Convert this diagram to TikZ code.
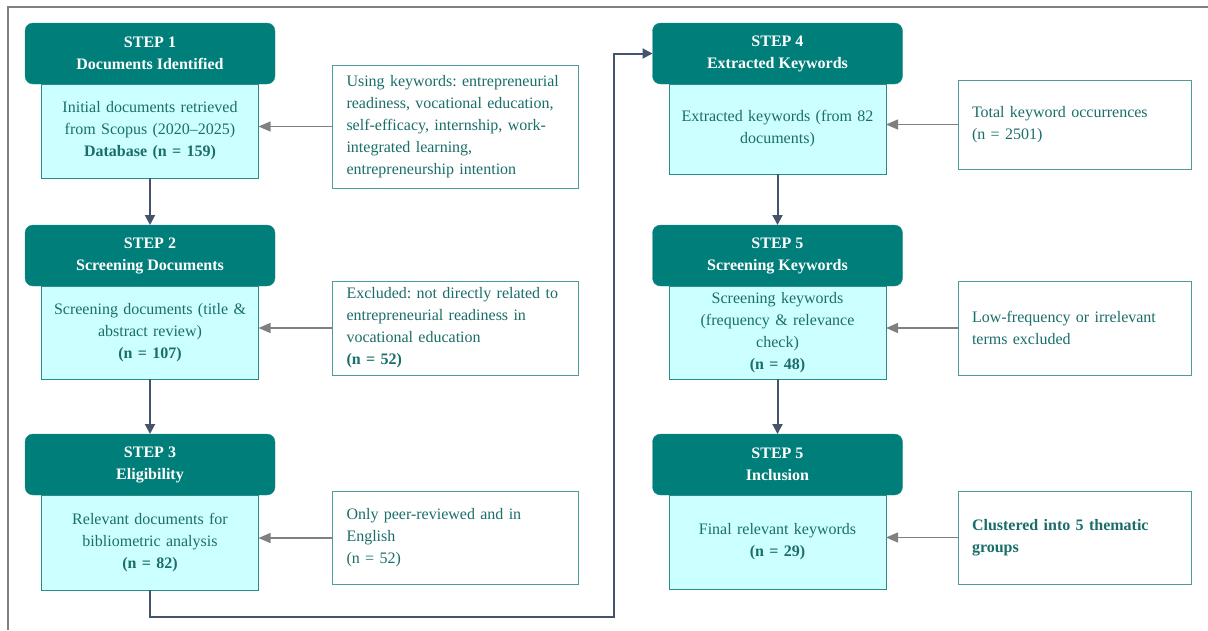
\documentclass[tikz,border=0pt]{standalone}
\usepackage{fontspec}
\setmainfont{Liberation Serif}
\usetikzlibrary{arrows.meta,positioning,calc}
\definecolor{stephead}{HTML}{007E7A}
\definecolor{stepbody}{HTML}{CCFFFF}
\definecolor{stepline}{HTML}{2A8C87}
\definecolor{steptext}{HTML}{1A6E6A}
\definecolor{flowline}{HTML}{44546A}
\definecolor{noteline}{HTML}{808080}
\frenchspacing

\begin{document}
\begin{tikzpicture}[x=1pt,y=-1pt,
        every node/.style={font=\fontsize{16}{22}\selectfont,text=steptext,outer sep=0pt},
        head/.style={fill=stephead,draw=stephead!85!white,rounded corners=8pt,minimum width=250pt,minimum height=61pt,text=white,font=\fontsize{16}{22}\selectfont\bfseries,align=center},
        body/.style={fill=stepbody,draw=stepline,line width=1pt,text width=201pt,inner xsep=8pt,align=center},
        note/.style={fill=white,draw=stepline!85!white,line width=1pt,inner xsep=14pt,align=left},
        flow/.style={draw=flowline,line width=2pt,-{Triangle[length=10pt,width=10pt]}},
        feed/.style={draw=noteline,line width=1.3pt,-{Triangle[length=12pt,width=10pt]}}]
   \useasboundingbox (0,0) rectangle (1208,630);
   \draw[gray,line width=1.5pt] (8,630) -- (8,7) -- (1208,7);

   % left column: documents
   \node[head] (hA) at (150,53.5) {STEP 1\\Documents Identified};
   \node[body,minimum height=94pt,below=0pt of hA] (bA) {Initial documents retrieved\\from Scopus (2020--2025)\\\textbf{Database (n = 159)}};
   \node[note,text width=218pt,minimum height=123pt,right=74pt of bA,yshift=4.5pt] (sA) {Using keywords: entrepreneurial\\readiness, vocational education,\\self-efficacy, internship, work-\\integrated learning,\\entrepreneurship intention};
   \draw[feed] (sA.west) -- (sA.west -| bA.east);

   \node[head,below=47pt of bA] (hB) {STEP 2\\Screening Documents};
   \node[body,minimum height=93pt,below=0pt of hB] (bB) {Screening documents (title \&\\abstract review)\\\textbf{(n = 107)}};
   \node[note,text width=218pt,minimum height=94pt,right=74pt of bB,yshift=4.5pt] (sB) {Excluded: not directly related to\\entrepreneurial readiness in\\vocational education\\\textbf{(n = 52)}};
   \draw[feed] (sB.west) -- (sB.west -| bB.east);

   \node[head,below=55pt of bB] (hC) {STEP 3\\Eligibility};
   \node[body,minimum height=95pt,below=0pt of hC] (bC) {Relevant documents for\\bibliometric analysis\\\textbf{(n = 82)}};
   \node[note,text width=218pt,minimum height=93pt,right=74pt of bC,yshift=4.5pt] (sC) {Only peer-reviewed and in\\English\\(n = 52)};
   \draw[feed] (sC.west) -- (sC.west -| bC.east);

   % right column: keywords
   \node[head] (hD) at (777.5,53.5) {STEP 4\\Extracted Keywords};
   \node[body,minimum height=90pt,below=0pt of hD] (bD) {Extracted keywords (from 82\\documents)};
   \node[note,text width=205pt,minimum height=89pt,right=72pt of bD,yshift=4.5pt] (sD) {Total keyword occurrences\\(n = 2501)};
   \draw[feed] (sD.west) -- (sD.west -| bD.east);

   \node[head,below=51pt of bD] (hE) {STEP 5\\Screening Keywords};
   \node[body,minimum height=93pt,below=0pt of hE] (bE) {Screening keywords\\(frequency \& relevance\\check)\\\textbf{(n = 48)}};
   \node[note,text width=205pt,minimum height=94pt,right=72pt of bE,yshift=4.5pt] (sE) {Low-frequency or irrelevant\\terms excluded};
   \draw[feed] (sE.west) -- (sE.west -| bE.east);

   \node[head,below=55pt of bE] (hF) {STEP 5\\Inclusion};
   \node[body,minimum height=94pt,below=0pt of hF] (bF) {Final relevant keywords\\\textbf{(n = 29)}};
   \node[note,text width=205pt,minimum height=93pt,right=72pt of bF,yshift=4.5pt] (sF) {\textbf{Clustered into 5 thematic}\\\textbf{groups}};
   \draw[feed] (sF.west) -- (sF.west -| bF.east);

   % flow between steps
   \draw[flow] (bA) -- (hB);
   \draw[flow] (bB) -- (hC);
   \draw[flow] (bD) -- (hE);
   \draw[flow] (bE) -- (hF);
   \coordinate (bend) at (614,617);
   \draw[flow] (bC.south) |- (bend) |- (hD.west);
\end{tikzpicture}
\end{document}
